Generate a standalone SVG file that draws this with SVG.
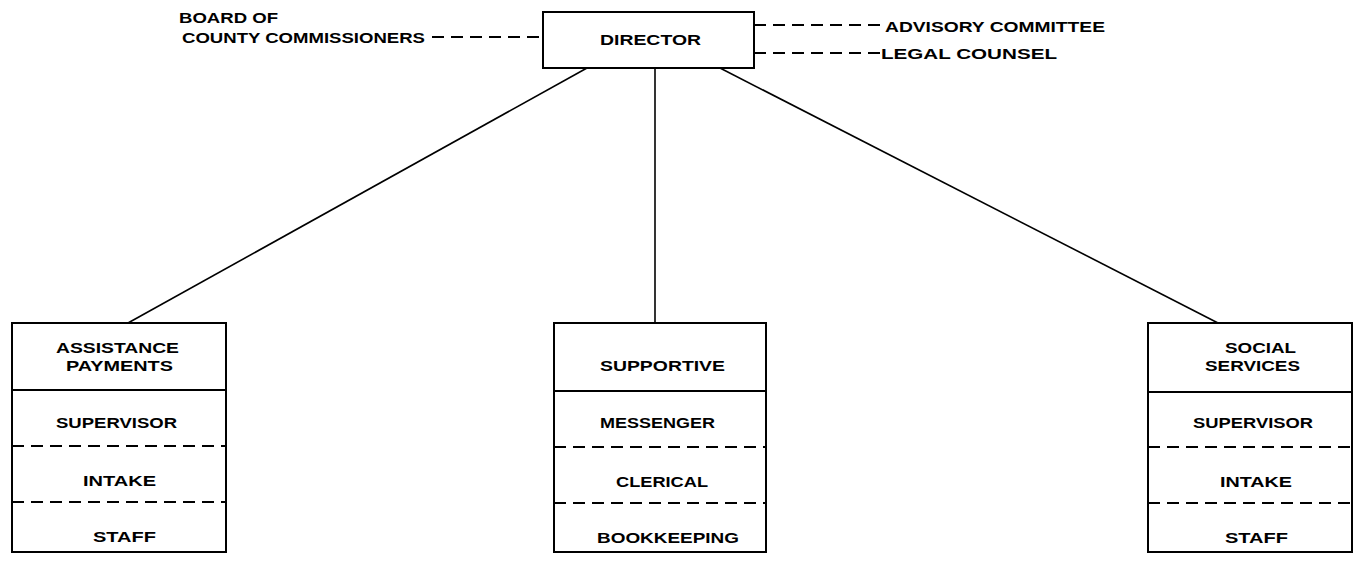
<svg xmlns="http://www.w3.org/2000/svg" width="1360" height="571" viewBox="0 0 1360 571">
<style>
.box{fill:#fff;stroke:#000;stroke-width:2}
.sep{stroke:#000;stroke-width:2;fill:none}
.dash{stroke:#000;stroke-width:2;fill:none;stroke-dasharray:12 7}
.ln{stroke:#000;stroke-width:1.6;fill:none}
text{font-family:"Liberation Sans",Arial,sans-serif;font-weight:bold;font-size:15.5px;fill:#000}
</style>
<rect width="1360" height="571" fill="#fff"/>
<g id="connectors">
<line class="ln" x1="587" y1="68" x2="128" y2="323"/>
<line class="ln" x1="655" y1="68" x2="655" y2="323"/>
<line class="ln" x1="720" y1="68" x2="1218" y2="323"/>
<line class="dash" x1="432" y1="37" x2="542" y2="37"/>
<line class="dash" x1="754" y1="25" x2="882" y2="25"/>
<line class="dash" x1="754" y1="53" x2="880" y2="53"/>
</g>
<g id="director">
<rect class="box" x="543" y="12" width="211" height="56"/>
<text x="600" y="45" textLength="101" lengthAdjust="spacingAndGlyphs">DIRECTOR</text>
</g>
<g id="board">
<text x="179" y="23" textLength="99" lengthAdjust="spacingAndGlyphs">BOARD OF</text>
<text x="182" y="43" textLength="243" lengthAdjust="spacingAndGlyphs">COUNTY COMMISSIONERS</text>
</g>
<g id="advisory">
<text x="885" y="32" textLength="220" lengthAdjust="spacingAndGlyphs">ADVISORY COMMITTEE</text>
</g>
<g id="legal">
<text x="881" y="59" textLength="176" lengthAdjust="spacingAndGlyphs">LEGAL COUNSEL</text>
</g>
<g id="assistance">
<rect class="box" x="12" y="323" width="214" height="229"/>
<line class="sep" x1="12" y1="390" x2="226" y2="390"/>
<line class="dash" x1="12" y1="446" x2="226" y2="446"/>
<line class="dash" x1="12" y1="502" x2="226" y2="502"/>
<text x="56" y="353" textLength="123" lengthAdjust="spacingAndGlyphs">ASSISTANCE</text>
<text x="66" y="371" textLength="107" lengthAdjust="spacingAndGlyphs">PAYMENTS</text>
<text x="56" y="428" textLength="121" lengthAdjust="spacingAndGlyphs">SUPERVISOR</text>
<text x="83" y="486" textLength="73" lengthAdjust="spacingAndGlyphs">INTAKE</text>
<text x="93" y="542" textLength="63" lengthAdjust="spacingAndGlyphs">STAFF</text>
</g>
<g id="supportive">
<rect class="box" x="554" y="323" width="212" height="229"/>
<line class="sep" x1="554" y1="391" x2="766" y2="391"/>
<line class="dash" x1="554" y1="447" x2="766" y2="447"/>
<line class="dash" x1="554" y1="503" x2="766" y2="503"/>
<text x="600" y="371" textLength="125" lengthAdjust="spacingAndGlyphs">SUPPORTIVE</text>
<text x="600" y="428" textLength="115" lengthAdjust="spacingAndGlyphs">MESSENGER</text>
<text x="616" y="487" textLength="92" lengthAdjust="spacingAndGlyphs">CLERICAL</text>
<text x="597" y="543" textLength="142" lengthAdjust="spacingAndGlyphs">BOOKKEEPING</text>
</g>
<g id="social">
<rect class="box" x="1148" y="323" width="204" height="229"/>
<line class="sep" x1="1148" y1="392" x2="1352" y2="392"/>
<line class="dash" x1="1148" y1="447" x2="1352" y2="447"/>
<line class="dash" x1="1148" y1="503" x2="1352" y2="503"/>
<text x="1225" y="353" textLength="71" lengthAdjust="spacingAndGlyphs">SOCIAL</text>
<text x="1205" y="371" textLength="95" lengthAdjust="spacingAndGlyphs">SERVICES</text>
<text x="1193" y="428" textLength="120" lengthAdjust="spacingAndGlyphs">SUPERVISOR</text>
<text x="1220" y="487" textLength="72" lengthAdjust="spacingAndGlyphs">INTAKE</text>
<text x="1225" y="543" textLength="63" lengthAdjust="spacingAndGlyphs">STAFF</text>
</g>
</svg>
